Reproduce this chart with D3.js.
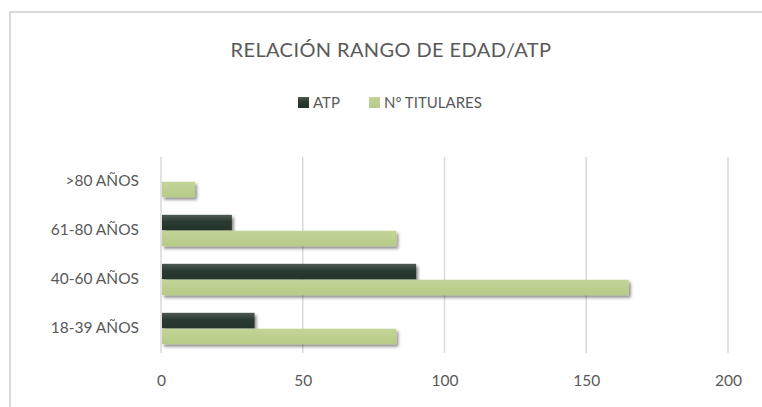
<!DOCTYPE html>
<html>
<head>
<meta charset="utf-8">
<script src="https://cdn.jsdelivr.net/npm/d3@7"></script>
<style>
  body { margin: 0; background: #fff; }
  svg { display: block; font-family: "Lato", "Noto Sans", sans-serif; }
</style>
</head>
<body>
<svg id="chart" width="762" height="407"></svg>
<script>
const categories = ["18-39 AÑOS", "40-60 AÑOS", "61-80 AÑOS", ">80 AÑOS"]
const atp = [33, 90, 25, 0]
const titulares = [83, 165, 83, 12]
const seriesNames = ["ATP", "Nº TITULARES"]
const xTicks = [0, 50, 100, 150, 200]

const width = 762, height = 407
const margin = {top: 157, right: 34, bottom: 54, left: 161}
const innerW = width - margin.left - margin.right
const innerH = height - margin.top - margin.bottom

const svg = d3.select('#chart')

// defs: gradients + shadow
const defs = svg.append('defs')
const gDark = defs.append('linearGradient').attr('id', 'gDark').attr('x1', 0).attr('y1', 0).attr('x2', 0).attr('y2', 1)
gDark.append('stop').attr('offset', '0%').attr('stop-color', '#4d5a52')
gDark.append('stop').attr('offset', '45%').attr('stop-color', '#2b3a31')
gDark.append('stop').attr('offset', '100%').attr('stop-color', '#25332b')
const gLight = defs.append('linearGradient').attr('id', 'gLight').attr('x1', 0).attr('y1', 0).attr('x2', 0).attr('y2', 1)
gLight.append('stop').attr('offset', '0%').attr('stop-color', '#c3d498')
gLight.append('stop').attr('offset', '100%').attr('stop-color', '#b6cb86')
const shadow = defs.append('filter').attr('id', 'shadow').attr('x', '-10%').attr('y', '-30%').attr('width', '130%').attr('height', '200%')
shadow.append('feDropShadow').attr('dx', 2).attr('dy', 2.5).attr('stdDeviation', 1.6)
  .attr('flood-color', '#000').attr('flood-opacity', 0.45)

// chart frame
svg.append('rect')
  .attr('x', 10).attr('y', 12)
  .attr('width', 800).attr('height', 450)
  .attr('fill', 'none').attr('stroke', '#d9d9d9').attr('stroke-width', 2)

// title
svg.append('text')
  .attr('x', 391).attr('y', 57)
  .attr('text-anchor', 'middle')
  .attr('font-size', 20)
  .attr('fill', '#595959')
  .attr('letter-spacing', '0.4')
  .text('RELACIÓN RANGO DE EDAD/ATP')

// legend
const legend = svg.append('g').attr('transform', 'translate(298, 97)')
const legendItems = [{name: seriesNames[0], fill: 'url(#gDark)', x: 0}, {name: seriesNames[1], fill: 'url(#gLight)', x: 71}]
legendItems.forEach(function(d) {
  const g = legend.append('g').attr('transform', 'translate(' + d.x + ',0)')
  g.append('rect').attr('width', 11).attr('height', 11).attr('fill', d.fill)
  g.append('text').attr('x', 15).attr('y', 11)
    .attr('font-size', 15).attr('fill', '#595959').text(d.name)
})

const plot = svg.append('g')
  .attr('transform', 'translate(' + margin.left + ',' + margin.top + ')')

const x = d3.scaleLinear().domain([0, 200]).range([0, 567])
const y = d3.scaleBand().domain(categories.slice().reverse()).range([0, innerH]).paddingInner(0.34).paddingOuter(0.17)
const ySub = d3.scaleBand().domain(seriesNames).range([0, y.bandwidth()]).padding(0.03)

// gridlines
plot.append('g')
  .selectAll('line')
  .data(xTicks)
  .join('line')
  .attr('x1', d => x(d)).attr('x2', d => x(d))
  .attr('y1', 0).attr('y2', innerH)
  .attr('stroke', '#d9d9d9').attr('stroke-width', 1.5)

// x axis labels
const xAxis = plot.append('g')
  .attr('transform', 'translate(0,' + innerH + ')')
  .call(d3.axisBottom(x).tickValues(xTicks).tickSize(0).tickPadding(22))
xAxis.select('.domain').remove()
xAxis.selectAll('text').attr('font-size', 15.5).attr('fill', '#595959')
  .attr('font-family', '"Lato", "Noto Sans", sans-serif')

// y axis labels
const yAxis = plot.append('g')
  .call(d3.axisLeft(y).tickSize(0).tickPadding(22))
yAxis.select('.domain').remove()
yAxis.selectAll('text').attr('font-size', 15.5).attr('fill', '#595959')
  .attr('font-family', '"Lato", "Noto Sans", sans-serif')

// bars
const rows = categories.map((c, i) => ({cat: c, values: [
  {name: seriesNames[0], value: atp[i], fill: 'url(#gDark)'},
  {name: seriesNames[1], value: titulares[i], fill: 'url(#gLight)'}
]}))

plot.append('g')
  .selectAll('g')
  .data(rows)
  .join('g')
  .attr('transform', d => 'translate(0,' + y(d.cat) + ')')
  .selectAll('rect')
  .data(d => d.values.filter(v => v.value > 0))
  .join('rect')
  .attr('x', x(0) + 1)
  .attr('y', d => ySub(d.name))
  .attr('width', d => x(d.value) - x(0) - 1)
  .attr('height', ySub.bandwidth())
  .attr('fill', d => d.fill)
  .attr('filter', 'url(#shadow)')
</script>
</body>
</html>
